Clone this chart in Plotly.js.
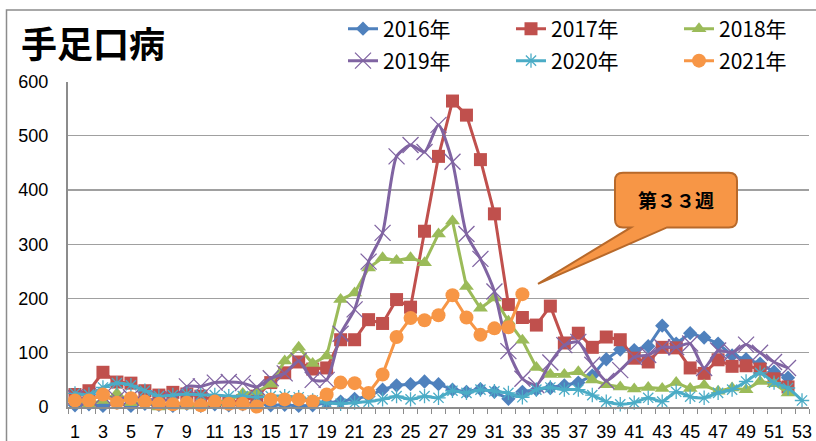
<!DOCTYPE html>
<html>
<head>
<meta charset="utf-8">
<script src="https://cdn.plot.ly/plotly-3.0.1.min.js"></script>
<style>html,body{margin:0;padding:0;background:#fff;}#chart{width:816px;height:441px;}</style>
</head>
<body>
<div id="chart"></div>
<script>
// ---- data ----
var weeks = [];
for (var i = 1; i <= 53; i++) weeks.push(i);
var xTickVals = [1,3,5,7,9,11,13,15,17,19,21,23,25,27,29,31,33,35,37,39,41,43,45,47,49,51,53];
var seriesNames = ['2016年','2017年','2018年','2019年','2020年','2021年'];

var y2016 = [3,5,2,8,2,6,4,2,6,2,5,3,5,8,3,4,2,3,8,10,15,20,32,40,42,47,42,32,28,33,28,15,28,32,35,40,45,58,88,106,105,112,150,117,136,128,117,95,88,80,65,54,null];
var y2017 = [23,30,64,46,44,30,22,27,24,20,12,8,12,20,45,63,83,70,72,124,124,161,154,198,184,324,462,564,538,456,356,189,165,151,186,118,136,110,129,124,90,83,110,109,72,62,87,75,76,70,52,37,null];
var y2018 = [15,5,12,25,8,8,0,2,2,3,8,12,25,28,42,85,110,80,94,198,210,256,275,270,275,266,319,343,222,182,201,158,123,73,60,60,65,50,41,37,33,36,34,45,34,40,29,35,32,47,43,26,null];
var y2019 = [18,15,20,15,18,15,12,15,38,38,45,46,44,37,53,62,85,50,50,135,180,268,321,462,483,470,520,452,319,273,213,103,52,40,82,114,120,78,48,68,92,96,110,110,117,72,104,100,115,100,83,72,null];
var y2020 = [25,23,36,44,40,30,20,22,24,22,22,20,20,18,20,20,18,12,8,6,8,10,14,20,14,20,17,30,26,32,29,26,18,32,36,32,32,22,10,5,8,17,10,28,19,17,26,32,47,63,45,35,12];
var y2021 = [12,12,23,8,16,10,6,5,8,3,10,6,6,1,14,14,14,10,23,45,44,26,60,129,164,160,169,206,165,133,145,147,208];

var calloutText = '第３３週';
var chartTitle = '手足口病';

// ---- layout geometry helpers (decoration only) ----
var W = 816, H = 441, ML = 68, MR = 7, MT = 79, MB = 34;
var PW = W - ML - MR, PH = H - MT - MB;
function xp(px){ return (px - ML) / PW; }
function yp(py){ return (H - MB - py) / PH; }

var colors = ['#4F81BD','#C0504D','#9BBB59','#8064A2','#4BACC6','#F79646'];
var ys = [y2016,y2017,y2018,y2019,y2020,y2021];
var markers = [
  {symbol:'diamond', size:11, color:colors[0]},
  {symbol:'square', size:13, color:colors[1]},
  {symbol:'triangle-up', size:13, color:colors[2]},
  {symbol:'x-thin-open', size:16, color:colors[3], line:{color:colors[3], width:1.3}},
  {symbol:'asterisk-open', size:12, color:colors[4], line:{color:colors[4], width:1.3}},
  {symbol:'circle', size:14, color:colors[5]}
];
var shapesLine = ['linear','linear','linear','spline','spline','linear'];

var traces = ys.map(function(y, k){
  return {
    type:'scatter', mode:'lines+markers', name: seriesNames[k],
    x: weeks.slice(0, y.length), y: y,
    line:{color:colors[k], width:3, shape:shapesLine[k], smoothing:0.6},
    marker: markers[k],
    legend: k < 3 ? 'legend' : 'legend2',
    cliponaxis: false
  };
});

// callout path
function P(px, py){ return xp(px).toFixed(5) + ',' + yp(py).toFixed(5); }
var bx0 = 615, bx1 = 737, by0 = 171, by1 = 226, r = 8;
var path = 'M' + P(bx0+r,by0) + ' L' + P(bx1-r,by0) + ' Q' + P(bx1,by0) + ' ' + P(bx1,by0+r) +
  ' L' + P(bx1,by1-r) + ' Q' + P(bx1,by1) + ' ' + P(bx1-r,by1) +
  ' L' + P(667,by1) + ' L' + P(538,283) + ' L' + P(631,by1) +
  ' L' + P(bx0+r,by1) + ' Q' + P(bx0,by1) + ' ' + P(bx0,by1-r) +
  ' L' + P(bx0,by0+r) + ' Q' + P(bx0,by0) + ' ' + P(bx0+r,by0) + ' Z';

var legendFont = {family:'"Liberation Sans Narrow", "Noto Sans CJK JP", sans-serif', size:21, color:'#000'};

var layout = {
  width: W, height: H,
  margin:{l:ML, r:MR, t:MT, b:MB},
  paper_bgcolor:'#fff', plot_bgcolor:'#fff',
  showlegend:true,
  title:{text:chartTitle, x:21/W, xref:'container', xanchor:'left', y:1-45/H, yref:'container', yanchor:'middle',
    font:{family:'"Noto Sans CJK JP", sans-serif', size:36, weight:'bold', color:'#000'}},
  xaxis:{
    type:'linear', range:[0.5,53.5], tickmode:'array', tickvals:xTickVals, ticktext:xTickVals.map(String),
    ticks:'', showgrid:false, zeroline:false, showline:true, linecolor:'#8C8C8C', linewidth:2,
    tickfont:{family:'"Liberation Sans", Arial, sans-serif', size:18, color:'#000'},
    ticklabelstandoff:7,
    minor:{tick0:0.5, dtick:1, ticks:'outside', ticklen:5, tickcolor:'#8C8C8C', tickwidth:1, showgrid:false},
    fixedrange:true
  },
  yaxis:{
    range:[0,600], tickvals:[0,100,200,300,400,500,600], ticks:'', showgrid:true, gridcolor:'#A0A0A0', gridwidth:1.4,
    zeroline:false, showline:true, linecolor:'#8C8C8C', linewidth:2,
    tickfont:{family:'"Liberation Sans", Arial, sans-serif', size:18, color:'#000'},
    ticklabelstandoff:14, fixedrange:true
  },
  legend:{orientation:'h', xref:'container', x:343/W, xanchor:'left', yref:'container', y:1-29/H, yanchor:'middle',
    entrywidth:123, font:legendFont, bgcolor:'rgba(0,0,0,0)', traceorder:'normal'},
  legend2:{orientation:'h', xref:'container', x:343/W, xanchor:'left', yref:'container', y:1-61/H, yanchor:'middle',
    entrywidth:123, font:legendFont, bgcolor:'rgba(0,0,0,0)', traceorder:'normal'},
  shapes:[
    {type:'rect', xref:'paper', yref:'paper', x0:xp(6.5), x1:xp(900), y0:yp(7), y1:yp(500),
      line:{color:'#8C8C8C', width:1.5}, fillcolor:'rgba(0,0,0,0)', layer:'below'},
    {type:'path', xref:'paper', yref:'paper', path:path, fillcolor:'#F79646', line:{color:'#B8692A', width:2}, layer:'above'}
  ],
  annotations:[
    {xref:'paper', yref:'paper', x:xp(676), y:yp(198), text:'<b>'+calloutText+'</b>', showarrow:false,
      font:{family:'"Noto Sans CJK JP", sans-serif', size:19, color:'#000'}, xanchor:'center', yanchor:'middle'}
  ]
};

Plotly.newPlot('chart', traces, layout, {displayModeBar:false, staticPlot:true});
</script>
</body>
</html>
